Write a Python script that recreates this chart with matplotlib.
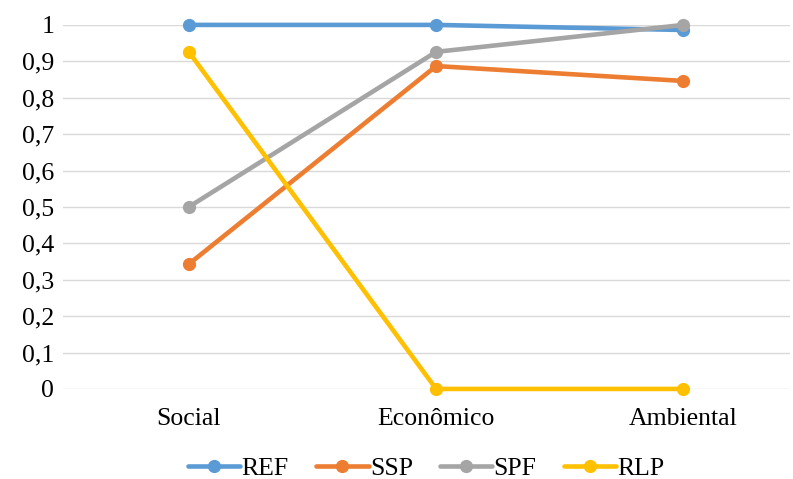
import matplotlib.pyplot as plt

categorias = ['Social', 'Econômico', 'Ambiental']
series = ['REF', 'SSP', 'SPF', 'RLP']
ref = [1.0, 1.0, 0.986]
ssp = [0.343, 0.887, 0.846]
spf = [0.5, 0.926, 1.0]
rlp = [0.926, 0.0, 0.0]
cores = ['#5B9BD5', '#ED7D31', '#A5A5A5', '#FFC000']

plt.rcParams['font.family'] = ['Liberation Serif', 'DejaVu Serif']

fig = plt.figure(figsize=(7.93, 4.79), dpi=100)
ax = fig.add_axes([0.079, 0.188, 0.917, 0.760])

x = range(len(categorias))
for nome, vals, cor in zip(series, [ref, ssp, spf, rlp], cores):
    ax.plot(x, vals, color=cor, linewidth=3.3, marker='o', markersize=8.5,
            label=nome, solid_capstyle='round', clip_on=False)

ax.set_ylim(0, 1)
ax.set_xlim(-0.51, 2.43)
ax.set_yticks([i / 10 for i in range(11)])
ax.set_yticklabels(['0'] + ['0,%d' % i for i in range(1, 10)] + ['1'])
ax.set_xticks(list(x))
ax.set_xticklabels(categorias)
ax.tick_params(axis='both', length=0, labelsize=18.5, colors='#000000')
ax.tick_params(axis='y', pad=6)
ax.tick_params(axis='x', pad=14)
ax.grid(axis='y', color='#D9D9D9', linewidth=1)
ax.set_axisbelow(True)
for s in ax.spines.values():
    s.set_visible(False)

ax.legend(loc='upper center', bbox_to_anchor=(0.5, -0.137), ncol=4, frameon=False,
          fontsize=18.5, handlelength=2.05, columnspacing=1.05, handletextpad=0.05,
          borderpad=0.2)

fig.savefig('out.png', dpi=100)
